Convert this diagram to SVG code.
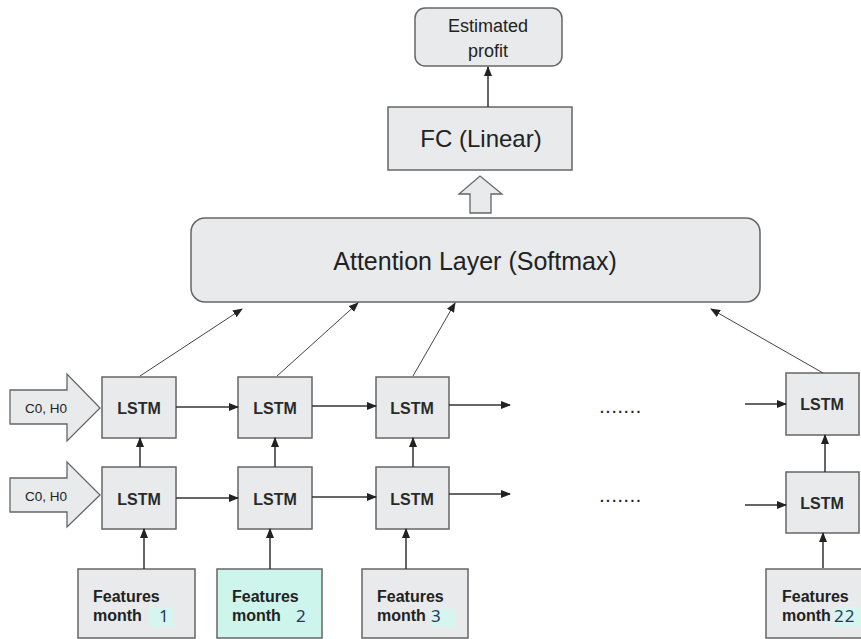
<svg xmlns="http://www.w3.org/2000/svg" width="861" height="639" viewBox="0 0 861 639">
<defs>
<marker id="ah" markerUnits="userSpaceOnUse" markerWidth="10" markerHeight="8" refX="9" refY="4" orient="auto">
<path d="M0,0 L10,4 L0,8 z" fill="#222"/>
</marker>
<style>
.box{fill:#e8eaeb;stroke:#666;stroke-width:1.5}
.feat2{fill:#cdf5ec;stroke:#666;stroke-width:1.5}
.hol{fill:#e8eaeb;stroke:#666;stroke-width:1.3}
.c{stroke:#333;stroke-width:1.5;fill:none;marker-end:url(#ah)}
.t{stroke:#444;stroke-width:1;fill:none;marker-end:url(#ah)}
.lstm{font-family:"Liberation Sans",Arial,sans-serif;font-size:16px;font-weight:bold;fill:#2a2a2a;text-anchor:middle}
.ft{font-family:"Liberation Sans",Arial,sans-serif;font-size:16px;font-weight:bold;fill:#222}
.num{font-family:"Noto Sans",sans-serif;font-size:17px;fill:#2a3560}
.hl{fill:#d6f5ee}
.lbl{font-family:"Liberation Sans",Arial,sans-serif;fill:#222;text-anchor:middle}
.c0{font-family:"Liberation Sans",Arial,sans-serif;font-size:13.5px;fill:#222;text-anchor:middle}
.dots{font-family:"Liberation Sans",Arial,sans-serif;font-size:14px;font-weight:bold;fill:#222;letter-spacing:2.2px}
</style>
</defs>
<rect width="861" height="639" fill="#fff"/>

<g id="estimated">
<rect class="box" x="415" y="8" width="147" height="58" rx="10"/>
<text class="lbl" x="488" y="32" font-size="18">Estimated</text>
<text class="lbl" x="488" y="57" font-size="18">profit</text>
</g>
<g id="fc">
<rect class="box" x="388" y="107" width="184" height="63"/>
<text class="lbl" x="481" y="147" font-size="24">FC (Linear)</text>
</g>
<g id="hollow-up">
<path class="hol" d="M470,213 L470,194 L459,194 L480,176 L502,194 L491,194 L491,213 z"/>
</g>
<g id="attention">
<rect class="box" x="191" y="218" width="569" height="84" rx="14"/>
<text class="lbl" x="475" y="270" font-size="25">Attention Layer (Softmax)</text>
</g>

<g id="init1">
<path class="hol" d="M10,390 L67,390 L67,374 L100,408 L67,441 L67,424 L10,424 z"/>
<text class="c0" x="46" y="413">C0, H0</text>
</g>
<g id="init2">
<path class="hol" d="M10,478 L67,478 L67,462 L100,495 L67,527 L67,512 L10,512 z"/>
<text class="c0" x="46" y="501">C0, H0</text>
</g>

<g id="lstm-1-top"><rect class="box" x="102" y="377" width="74" height="61"/><text class="lstm" x="139" y="414">LSTM</text></g>
<g id="lstm-1-bot"><rect class="box" x="102" y="467" width="74" height="62"/><text class="lstm" x="139" y="505">LSTM</text></g>
<g id="lstm-2-top"><rect class="box" x="238" y="377" width="74" height="61"/><text class="lstm" x="275" y="414">LSTM</text></g>
<g id="lstm-2-bot"><rect class="box" x="238" y="467" width="74" height="62"/><text class="lstm" x="275" y="505">LSTM</text></g>
<g id="lstm-3-top"><rect class="box" x="376" y="377" width="73" height="61"/><text class="lstm" x="412" y="414">LSTM</text></g>
<g id="lstm-3-bot"><rect class="box" x="376" y="467" width="73" height="62"/><text class="lstm" x="412" y="505">LSTM</text></g>
<g id="lstm-22-top"><rect class="box" x="786" y="373" width="73" height="62"/><text class="lstm" x="822" y="410">LSTM</text></g>
<g id="lstm-22-bot"><rect class="box" x="786" y="472" width="73" height="61"/><text class="lstm" x="822" y="509">LSTM</text></g>

<g id="feat-1">
<rect class="box" x="78" y="569" width="117" height="69"/>
<rect class="hl" x="150" y="607" width="23" height="20"/>
<text class="ft" x="93" y="602">Features</text>
<text class="ft" x="93" y="621">month</text>
<text class="num" x="159" y="622">1</text>
</g>
<g id="feat-2">
<rect class="feat2" x="217" y="569" width="105" height="69"/>
<text class="ft" x="232" y="602">Features</text>
<text class="ft" x="232" y="621">month</text>
<text class="num" x="296" y="622">2</text>
</g>
<g id="feat-3">
<rect class="box" x="362" y="569" width="106" height="69"/>
<rect class="hl" x="432" y="609" width="24" height="18"/>
<text class="ft" x="377" y="602">Features</text>
<text class="ft" x="377" y="621">month</text>
<text class="num" x="431" y="622">3</text>
</g>
<g id="feat-22">
<rect class="box" x="766" y="569" width="100" height="69"/>
<rect class="hl" x="834" y="607" width="27" height="20"/>
<text class="ft" x="782" y="602">Features</text>
<text class="ft" x="782" y="621">month</text>
<text class="num" x="834" y="622" letter-spacing="1">22</text>
</g>

<g id="ellipsis">
<text class="dots" x="600" y="413">.......</text>
<text class="dots" x="600" y="502">.......</text>
</g>

<g id="connectors">
<line class="c" x1="488" y1="107" x2="488" y2="67"/>
<line class="t" x1="140" y1="376" x2="242" y2="309"/>
<line class="t" x1="277" y1="376" x2="358" y2="303"/>
<line class="t" x1="413" y1="376" x2="455" y2="303"/>
<line class="t" x1="823" y1="373" x2="711" y2="309"/>
<line class="c" x1="176" y1="407" x2="238" y2="407"/>
<line class="c" x1="312" y1="406" x2="376" y2="406"/>
<line class="c" x1="449" y1="405" x2="510" y2="405"/>
<line class="c" x1="745" y1="404" x2="786" y2="404"/>
<line class="c" x1="176" y1="498" x2="238" y2="498"/>
<line class="c" x1="312" y1="497" x2="376" y2="497"/>
<line class="c" x1="449" y1="494" x2="510" y2="494"/>
<line class="c" x1="745" y1="505" x2="786" y2="505"/>
<line class="c" x1="140" y1="467" x2="140" y2="438"/>
<line class="c" x1="275" y1="467" x2="275" y2="438"/>
<line class="c" x1="413" y1="467" x2="413" y2="438"/>
<line class="c" x1="825" y1="472" x2="825" y2="435"/>
<line class="c" x1="144" y1="569" x2="144" y2="529"/>
<line class="c" x1="270" y1="569" x2="270" y2="529"/>
<line class="c" x1="406" y1="569" x2="406" y2="529"/>
<line class="c" x1="823" y1="568" x2="823" y2="533"/>
</g>
</svg>
